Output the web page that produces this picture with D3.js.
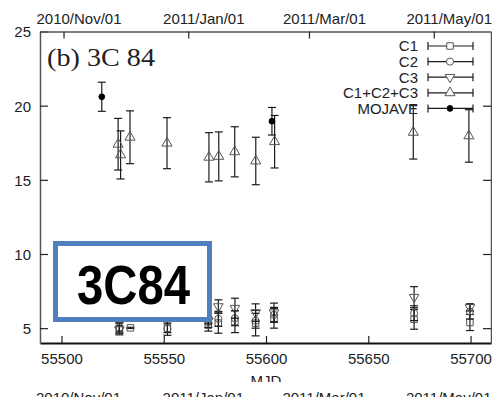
<!DOCTYPE html>
<html><head><meta charset="utf-8">
<script src="https://cdn.jsdelivr.net/npm/d3@7"></script>
<style>html,body{margin:0;padding:0;background:#fff;}svg{display:block;}</style>
</head><body>
<svg id="c" width="492" height="397"></svg>
<script>
// ---- data ----
const sumMJD  = [55527.7, 55528.9, 55533.5, 55551.6, 55572.1, 55576.9, 55584.7, 55595.0, 55604.2, 55672.0, 55699.2];
const sumFlux = [17.40, 16.68, 17.87, 17.47, 16.52, 16.58, 16.89, 16.27, 17.57, 18.20, 17.96];
const sumErr  = [1.74, 1.62, 1.78, 1.72, 1.66, 1.65, 1.69, 1.60, 1.77, 1.80, 1.77];

const mojMJD  = [55519.7, 55602.9];
const mojFlux = [20.60, 18.95];
const mojErr  = [0.98, 0.93];

const compMJD = [55528.3, 55533.7, 55551.8, 55571.8, 55576.7, 55584.8, 55594.9, 55603.9, 55672.4, 55699.7];
const c1Flux  = [4.95, 5.02, 5.00, 5.20, 5.34, 5.44, 5.34, 5.67, 5.60, 5.38];
const c1Err   = [0.40, 0.04, 0.30, 0.40, 0.68, 0.74, 0.86, 0.67, 0.67, 0.54];
const c2Flux  = [5.05, null, 4.97, 5.40, 5.63, 5.67, 5.50, 5.90, 6.01, 6.12];
const c2Err   = [0.30, null, 0.45, 0.35, 0.50, 0.50, 0.50, 0.50, 0.50, 0.50];
const c3Flux  = [4.90, null, null, 5.50, 6.46, 6.35, 6.05, 6.05, 7.09, 6.40];
const c3Err   = [0.25, null, null, 0.20, 0.45, 0.67, 0.59, 0.64, 0.71, 0.24];

const xTicks = [55500, 55550, 55600, 55650, 55700];
const yTicks = [5, 10, 15, 20, 25];
const dateTicks  = [55501, 55562, 55621, 55682];
const dateLabels = ["2010/Nov/01", "2011/Jan/01", "2011/Mar/01", "2011/May/01"];
const legendNames = ["C1", "C2", "C3", "C1+C2+C3", "MOJAVE"];

// ---- drawing ----
const svg = d3.select("#c");
const L = 40, R = 491, T = 31.5, B = 343;
const x = d3.scaleLinear().domain([55489.5, 55710]).range([L, R]);
const y = d3.scaleLinear().domain([4, 25]).range([B, T]);
const font = "'Liberation Sans', Arial, sans-serif";
const barCol = "#1a1a1a", mkCol = "#555";

// axes
const gB = svg.append("g").attr("transform", `translate(0,${B})`)
  .call(d3.axisBottom(x).tickValues(xTicks).tickFormat(d3.format("d")).tickSizeInner(-7).tickSizeOuter(0).tickPadding(10));
const gL = svg.append("g").attr("transform", `translate(${L},0)`)
  .call(d3.axisLeft(y).tickValues(yTicks).tickSizeInner(-8).tickSizeOuter(0).tickPadding(9));
const gR = svg.append("g").attr("transform", `translate(${R},0)`)
  .call(d3.axisRight(y).tickValues(yTicks.filter(v => v < 25)).tickFormat("").tickSizeInner(-8).tickSizeOuter(0));
const xTop = d3.scaleLinear().domain(x.domain()).range(x.range());
const gT = svg.append("g").attr("transform", `translate(0,${T})`)
  .call(d3.axisTop(xTop).tickValues(dateTicks).tickFormat((d, i) => dateLabels[i]).tickSizeInner(-7).tickSizeOuter(0).tickPadding(8));
[gB, gL, gR, gT].forEach(g => {
  g.selectAll("text").attr("font-family", font).attr("font-size", 15).attr("fill", "#222");
  g.selectAll(".tick line").attr("stroke", "#222").attr("stroke-width", 1.2);
  g.select(".domain").attr("stroke", "#555").attr("stroke-width", 1.5);
});
gB.select(".domain").attr("stroke", "#111").attr("stroke-width", 2);
gT.selectAll("text").attr("dx", 15);
gL.selectAll("text").attr("dy", "0.36em");

// title inside
svg.append("text").attr("x", 47).attr("y", 66).attr("font-family", "'Liberation Serif', 'DejaVu Serif', serif")
  .attr("font-size", 25).attr("fill", "#222").attr("textLength", 108).attr("lengthAdjust", "spacingAndGlyphs")
  .text("(b) 3C 84");

// x label and cropped bottom row
svg.append("text").attr("x", x(55600)).attr("y", 386).attr("text-anchor", "middle")
  .attr("font-family", font).attr("font-size", 15).attr("fill", "#222").text("MJD");
svg.append("rect").attr("x", 0).attr("y", 382).attr("width", 492).attr("height", 10).attr("fill", "#fff");
svg.append("g").selectAll("text").data(dateTicks).join("text")
  .attr("x", d => x(d) + 15).attr("y", 403).attr("text-anchor", "middle")
  .attr("font-family", font).attr("font-size", 15).attr("fill", "#222")
  .text((d, i) => dateLabels[i]);

// marker shapes
const sym = {
  C1: d3.symbol().type(d3.symbolSquare).size(42),
  C2: d3.symbol().type(d3.symbolCircle).size(40),
  C3: d3.symbol().type(d3.symbolTriangle).size(40),
  SUM: d3.symbol().type(d3.symbolTriangle).size(44),
  MOJ: d3.symbol().type(d3.symbolCircle).size(26)
};
function series(mjd, flux, err, key, rot) {
  const pts = mjd.map((m, i) => ({m, v: flux[i], e: err[i]})).filter(d => d.v != null);
  const g = svg.append("g");
  const cap = 4;
  pts.forEach(d => {
    const xx = x(d.m), y1 = y(d.v + d.e), y2 = y(d.v - d.e);
    g.append("line").attr("x1", xx).attr("x2", xx).attr("y1", y1).attr("y2", y2).attr("stroke", barCol).attr("stroke-width", 1.2);
    g.append("line").attr("x1", xx - cap).attr("x2", xx + cap).attr("y1", y1).attr("y2", y1).attr("stroke", barCol).attr("stroke-width", 1.2);
    g.append("line").attr("x1", xx - cap).attr("x2", xx + cap).attr("y1", y2).attr("y2", y2).attr("stroke", barCol).attr("stroke-width", 1.2);
  });
  return {g, pts, key, rot};
}
function markers(s) {
  s.g.selectAll("path").data(s.pts).join("path")
    .attr("d", sym[s.key]())
    .attr("transform", d => `translate(${x(d.m)},${y(d.v)}) rotate(${s.rot})`)
    .attr("fill", s.key === "MOJ" ? "#000" : "none")
    .attr("stroke", s.key === "MOJ" ? "#000" : mkCol).attr("stroke-width", 1);
}
const sets = [
  series(compMJD, c1Flux, c1Err, "C1", 0),
  series(compMJD, c2Flux, c2Err, "C2", 0),
  series(compMJD, c3Flux, c3Err, "C3", 180),
  series(sumMJD, sumFlux, sumErr, "SUM", 0),
  series(mojMJD, mojFlux, mojErr, "MOJ", 0)
];
sets.forEach(markers);

// legend
const keys = ["C1", "C2", "C3", "SUM", "MOJ"];
const lg = svg.append("g");
legendNames.forEach((name, i) => {
  const yy = 46 + i * 15.6;
  lg.append("text").attr("x", 418).attr("y", yy).attr("dy", "0.36em").attr("text-anchor", "end")
    .attr("font-family", font).attr("font-size", 15).attr("fill", "#222").text(name);
  lg.append("line").attr("x1", 428).attr("x2", 473).attr("y1", yy).attr("y2", yy).attr("stroke", barCol).attr("stroke-width", 1.2);
  [428, 473].forEach(xx => lg.append("line").attr("x1", xx).attr("x2", xx).attr("y1", yy - 4).attr("y2", yy + 4).attr("stroke", barCol).attr("stroke-width", 1.2));
  const k = keys[i];
  lg.append("path").attr("d", sym[k]()).attr("transform", `translate(450,${yy}) rotate(${k === "C3" ? 180 : 0})`)
    .attr("fill", k === "MOJ" ? "#000" : "#fff").attr("stroke", k === "MOJ" ? "#000" : mkCol).attr("stroke-width", 1);
});

// overlay label box
svg.append("rect").attr("x", 55.5).attr("y", 243.5).attr("width", 154).attr("height", 76)
  .attr("fill", "#fff").attr("stroke", "#4f7fbf").attr("stroke-width", 5);
svg.append("text").attr("x", 77).attr("y", 304).attr("font-family", font).attr("font-weight", "bold")
  .attr("font-size", 55).attr("fill", "#000").attr("textLength", 113).attr("lengthAdjust", "spacingAndGlyphs").text("3C84");
</script>
</body></html>
